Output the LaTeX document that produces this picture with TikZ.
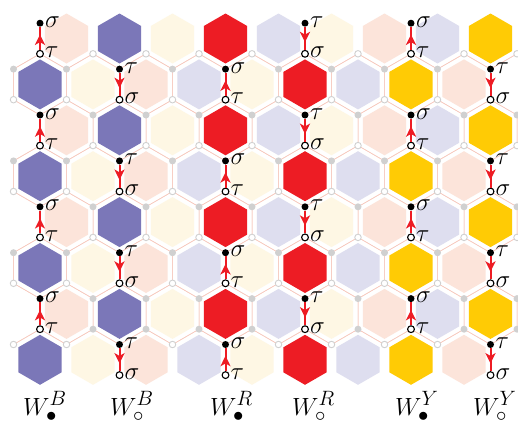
\documentclass[tikz,border=0pt]{standalone}
\usetikzlibrary{arrows.meta,decorations.markings}
\definecolor{c2s}{RGB}{123,119,184}
\definecolor{c1s}{RGB}{237,28,36}
\definecolor{c0s}{RGB}{255,203,5}
\definecolor{c2p}{RGB}{222,222,239}
\definecolor{c1p}{RGB}{252,228,218}
\definecolor{c0p}{RGB}{254,247,228}
\definecolor{latt}{RGB}{247,200,188}
\definecolor{dotgray}{RGB}{208,208,208}
\definecolor{arrred}{RGB}{237,28,36}
\begin{document}
\begin{tikzpicture}[x=1pt,y=-1pt,
  gdot/.style={circle,fill=dotgray,inner sep=0pt,minimum size=7pt},
  godot/.style={circle,draw=dotgray,fill=white,line width=0.9pt,inner sep=0pt,minimum size=6.5pt},
  bdot/.style={circle,fill=black,inner sep=0pt,minimum size=7pt},
  bodot/.style={circle,draw=black,fill=white,line width=1.1pt,inner sep=0pt,minimum size=6.8pt},
  lab/.style={anchor=base west,inner sep=0pt,font=\Huge},
  wlab/.style={anchor=base west,inner sep=0pt,font=\Huge},
  redarrow/.style={draw=arrred,line width=2pt,postaction={decorate},
    decoration={markings,mark=at position 0.62 with {\fill[arrred] (1pt,0pt) -- (-9.5pt,5.2pt) -- (-6.5pt,0pt) -- (-9.5pt,-5.2pt) -- cycle;}}},
  lattice/.style={draw=latt,line width=0.5pt}]
\useasboundingbox (0,0) rectangle (518,423);
\fill[white] (0,0) rectangle (518,423);
% hexagon fills
\foreach \rr in {0,...,7}{
  \foreach \kk in {0,...,8}{
    \pgfmathtruncatemacro{\uu}{2*\kk+2-mod(\rr,2)}
    \pgfmathtruncatemacro{\hcl}{mod((\uu+3*\rr)/2,3)}
    \pgfmathtruncatemacro{\isst}{(\uu==1)||(\uu==4)||(\uu==8)||(\uu==11)||(\uu==15)||(\uu==18)}
    \pgfmathsetmacro{\hx}{13.5+26.5*\uu}
    \pgfmathsetmacro{\hy}{38.5+45.9*\rr}
    \ifnum\isst=1 \def\suf{s}\else\def\suf{p}\fi
    \fill[c\hcl\suf] (\hx,\hy) +(90:25) -- +(30:25) -- +(-30:25) -- +(-90:25) -- +(-150:25) -- +(150:25) -- cycle;
  }
}
% lattice lines
\begin{scope}
\clip (12,0) rectangle (519,423);
\foreach \rr in {1,...,6}{
  \foreach \kk in {-1,...,10}{
    \ifodd\rr \pgfmathsetmacro{\hx}{40+53*\kk}\else \pgfmathsetmacro{\hx}{13.5+53*\kk}\fi
    \pgfmathsetmacro{\hy}{38.5+45.9*\rr}
    \draw[lattice] (\hx,\hy) +(90:30.6) -- +(30:30.6) -- +(-30:30.6) -- +(-90:30.6) -- +(-150:30.6) -- +(150:30.6) -- cycle;
  }
}
\foreach \kk in {0,...,10}{
  \pgfmathsetmacro{\hx}{13.5+53*\kk}
  \draw[lattice] (\hx,38.5) +(150:30.6) -- +(90:30.6) -- +(30:30.6);
}
\foreach \kk in {-1,...,10}{
  \pgfmathsetmacro{\hx}{40+53*\kk}
  \draw[lattice] (\hx,359.8) +(-150:30.6) -- +(-90:30.6) -- +(-30:30.6);
}
\end{scope}
% grey lattice dots
\foreach \ly/\sty [count=\li] in {53.8/godot,115/gdot,145.6/godot,206.8/gdot,237.4/godot,298.6/gdot,329.2/gdot}{
  \foreach \kk in {1,2,3,4,6,8,9}{
    \node[\sty] (ga-\li-\kk) at ({40+53*\kk},\ly) {};
  }
}
\foreach \ly/\sty [count=\li] in {69.1/gdot,99.7/godot,160.9/gdot,191.5/godot,252.7/gdot,283.3/godot,344.5/godot}{
  \foreach \kk in {0,1,3,5,6,7,8}{
    \node[\sty] (gb-\li-\kk) at ({13.5+53*\kk},\ly) {};
  }
}
% arrows with sigma / tau
\foreach \cx/\by/\kd/\nm in {40/23.2/f/c1, 119.5/69.1/o/c2, 225.5/69.1/f/c3, 305/23.2/o/c4, 411/23.2/f/c5, 490.5/69.1/o/c6}{
  \foreach \mm in {0,...,3}{
    \pgfmathsetmacro{\ty}{\by+91.8*\mm}
    \pgfmathsetmacro{\bty}{\ty+30.6}
    \node[bdot] (\nm-t-\mm) at (\cx,\ty) {};
    \node[bodot] (\nm-b-\mm) at (\cx,\bty) {};
    \if f\kd
      \draw[redarrow] (\nm-b-\mm) -- (\nm-t-\mm);
      \node[lab] (\nm-tl-\mm) at ({\cx+5},{\ty+4}) {$\sigma$};
      \node[lab] (\nm-bl-\mm) at ({\cx+5},{\bty+4}) {$\tau$};
    \else
      \draw[redarrow] (\nm-t-\mm) -- (\nm-b-\mm);
      \node[lab] (\nm-tl-\mm) at ({\cx+5},{\ty+4}) {$\tau$};
      \node[lab] (\nm-bl-\mm) at ({\cx+5},{\bty+4}) {$\sigma$};
    \fi
  }
}
% bottom labels
\node[wlab] (w1) at (23,415) {$W^{B}_{\bullet}$};
\node[wlab] (w2) at (110,415) {$W^{B}_{\circ}$};
\node[wlab] (w3) at (210,415) {$W^{R}_{\bullet}$};
\node[wlab] (w4) at (292,415) {$W^{R}_{\circ}$};
\node[wlab] (w5) at (395,415) {$W^{Y}_{\bullet}$};
\node[wlab] (w6) at (473,415) {$W^{Y}_{\circ}$};
\end{tikzpicture}
\end{document}
